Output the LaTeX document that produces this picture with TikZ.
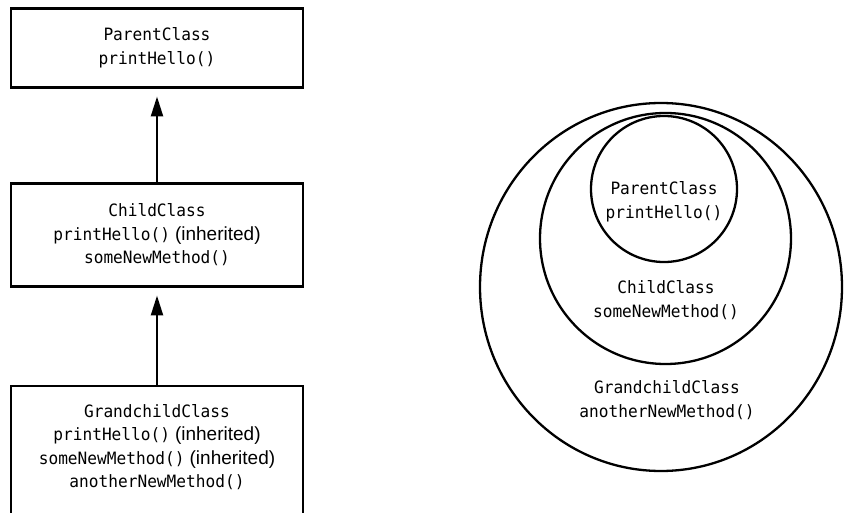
\documentclass[tikz,border=0pt]{standalone}
\usepackage{fontspec}
\newfontfamily\codefont[FakeStretch=0.95]{DejaVu Sans Mono}
\newfontfamily\sansfont{Liberation Sans}
\usetikzlibrary{arrows.meta,shapes.geometric}
\newcommand{\inh}{{\sansfont\fontsize{19}{23.5}\selectfont\hspace{5pt}(inherited)}}
\begin{document}
\begin{tikzpicture}[x=1pt,y=-1pt,
  every node/.style={font=\codefont\fontsize{17}{23.5}\selectfont, align=center, inner sep=0pt, outer sep=0pt},
  classbox/.style={draw, line width=2.3pt, minimum width=292pt},
  ring/.style={draw, line width=2.3pt, circle},
  oval/.style={draw, line width=2.3pt, ellipse},
  inherit/.style={-{Triangle[length=20pt,width=12pt]}, line width=2.3pt, shorten >=9pt}]
\useasboundingbox (0,0) rectangle (844,513);
\clip (0,0) rectangle (844,513);
% left: class boxes
\node[classbox, minimum height=79pt] (pbox) at (157,48) {ParentClass\\printHello()};
\node[classbox, minimum height=103pt] (cbox) at (157,235) {ChildClass\\printHello()\inh\\someNewMethod()};
\node[classbox, minimum height=160pt, anchor=north] (gbox) at (157,386) {};
\node (gtext) at (157,447) {GrandchildClass\\printHello()\inh\\someNewMethod()\inh\\anotherNewMethod()};
\draw[inherit] (cbox.north) -- (pbox.south);
\draw[inherit] (gbox.north) -- (cbox.south);
% right: nested circles
\node[oval, minimum width=362pt, minimum height=368pt] (gring) at (661,287) {};
\node[ring, minimum size=251pt] (cring) at (665.5,238.5) {};
\node[ring, minimum size=146pt] (pring) at (664,189) {};
\node (ptext) at (664,202) {ParentClass\\printHello()};
\node (ctext) at (666,300) {ChildClass\\someNewMethod()};
\node (gtext2) at (667,400) {GrandchildClass\\anotherNewMethod()};
\end{tikzpicture}
\end{document}
